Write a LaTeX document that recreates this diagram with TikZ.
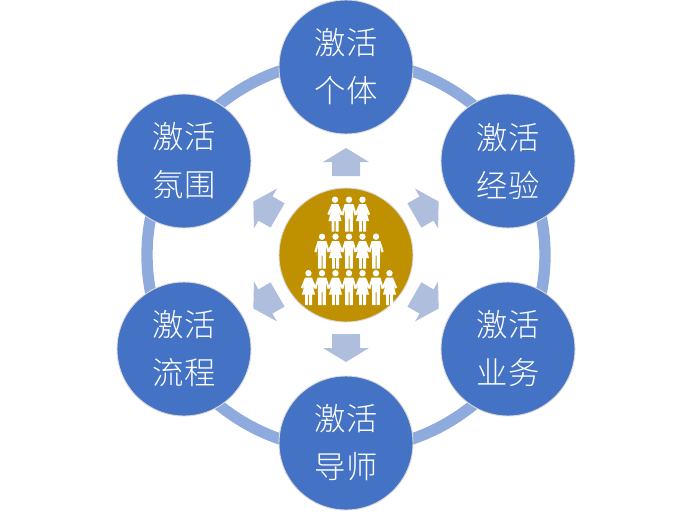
\documentclass[tikz,border=0pt]{standalone}
\usepackage{fontspec}
\setmainfont{Noto Sans CJK SC Light}
\definecolor{nodeblue}{HTML}{4472C4}
\definecolor{ringblue}{HTML}{8FAADC}
\definecolor{arrowblue}{HTML}{B0BEDD}
\definecolor{gold}{HTML}{BF9000}
\tikzset{
  x=0.75pt,y=-0.75pt,
  bubble/.style={circle,draw=black!15,line width=0.7pt,fill=nodeblue,minimum size=100.5pt,inner sep=0pt,text=white,font=\fontsize{23.5}{36}\selectfont,align=center},
  hub/.style={circle,draw=black!15,line width=0.7pt,fill=gold,minimum size=100.5pt,inner sep=0pt},
  ringline/.style={draw=ringblue,line width=8.5pt},
  arrowshape/.style={fill=arrowblue,draw=none},
  person/.style={fill=white,draw=none}
}
\newcommand{\outarrow}[1]{%
  \fill[arrowshape,rotate around={#1:(346,255)}] (346,148) -- (369,162) -- (360,162) -- (360,176) -- (332,176) -- (332,162) -- (323,162) -- cycle;}
\newcommand{\manfig}[2]{%
  \begin{scope}[shift={(#1,#2)}]
  \fill[person] (0,3.2) circle[radius=3.2];
  \fill[person] (-4.4,7.5) -- (4.4,7.5) -- (7.6,18) -- (5.6,19.2) -- (4.2,12.5) -- (3.8,35) -- (0.5,35) -- (0.5,22) -- (-0.5,22) -- (-0.5,35) -- (-3.8,35) -- (-4.2,12.5) -- (-5.6,19.2) -- (-7.6,18) -- cycle;
  \end{scope}}
\newcommand{\womanfig}[2]{%
  \begin{scope}[shift={(#1,#2)}]
  \fill[person] (0,3.2) circle[radius=3.2];
  \fill[person] (-3.4,7.5) -- (3.4,7.5) -- (7.6,17.5) -- (5.6,18.7) -- (3.4,13.5) -- (6.6,24.5) -- (3.5,24.5) -- (3.5,35) -- (0.7,35) -- (0.7,24.5) -- (-0.7,24.5) -- (-0.7,35) -- (-3.5,35) -- (-3.5,24.5) -- (-6.6,24.5) -- (-3.4,13.5) -- (-5.6,18.7) -- (-7.6,17.5) -- cycle;
  \end{scope}}
\begin{document}
\begin{tikzpicture}
\useasboundingbox (0,0) rectangle (692,517);
\coordinate (c) at (346,255);
\draw[ringline] (c) circle[x radius=199,y radius=195];
\outarrow{0}\outarrow{60}\outarrow{120}\outarrow{180}\outarrow{240}\outarrow{300}
\node[hub] (hubnode) at (c) {};
\womanfig{335}{196.5}\manfig{349}{196.5}\womanfig{362.5}{196.5}
\manfig{322}{233.5}\womanfig{335.5}{233.5}\manfig{349}{233.5}\womanfig{362.5}{233.5}\manfig{376}{233.5}
\womanfig{308.5}{270}\manfig{322}{270}\womanfig{335.5}{270}\manfig{349}{270}\womanfig{362.5}{270}\manfig{376}{270}\womanfig{389.5}{270}
\node[bubble] (n1) at (346,67) {激活\\个体};
\node[bubble] (n2) at (508,161) {激活\\经验};
\node[bubble] (n3) at (508,349) {激活\\业务};
\node[bubble] (n4) at (346,443) {激活\\导师};
\node[bubble] (n5) at (184,349) {激活\\流程};
\node[bubble] (n6) at (184,161) {激活\\氛围};
\end{tikzpicture}
\end{document}
